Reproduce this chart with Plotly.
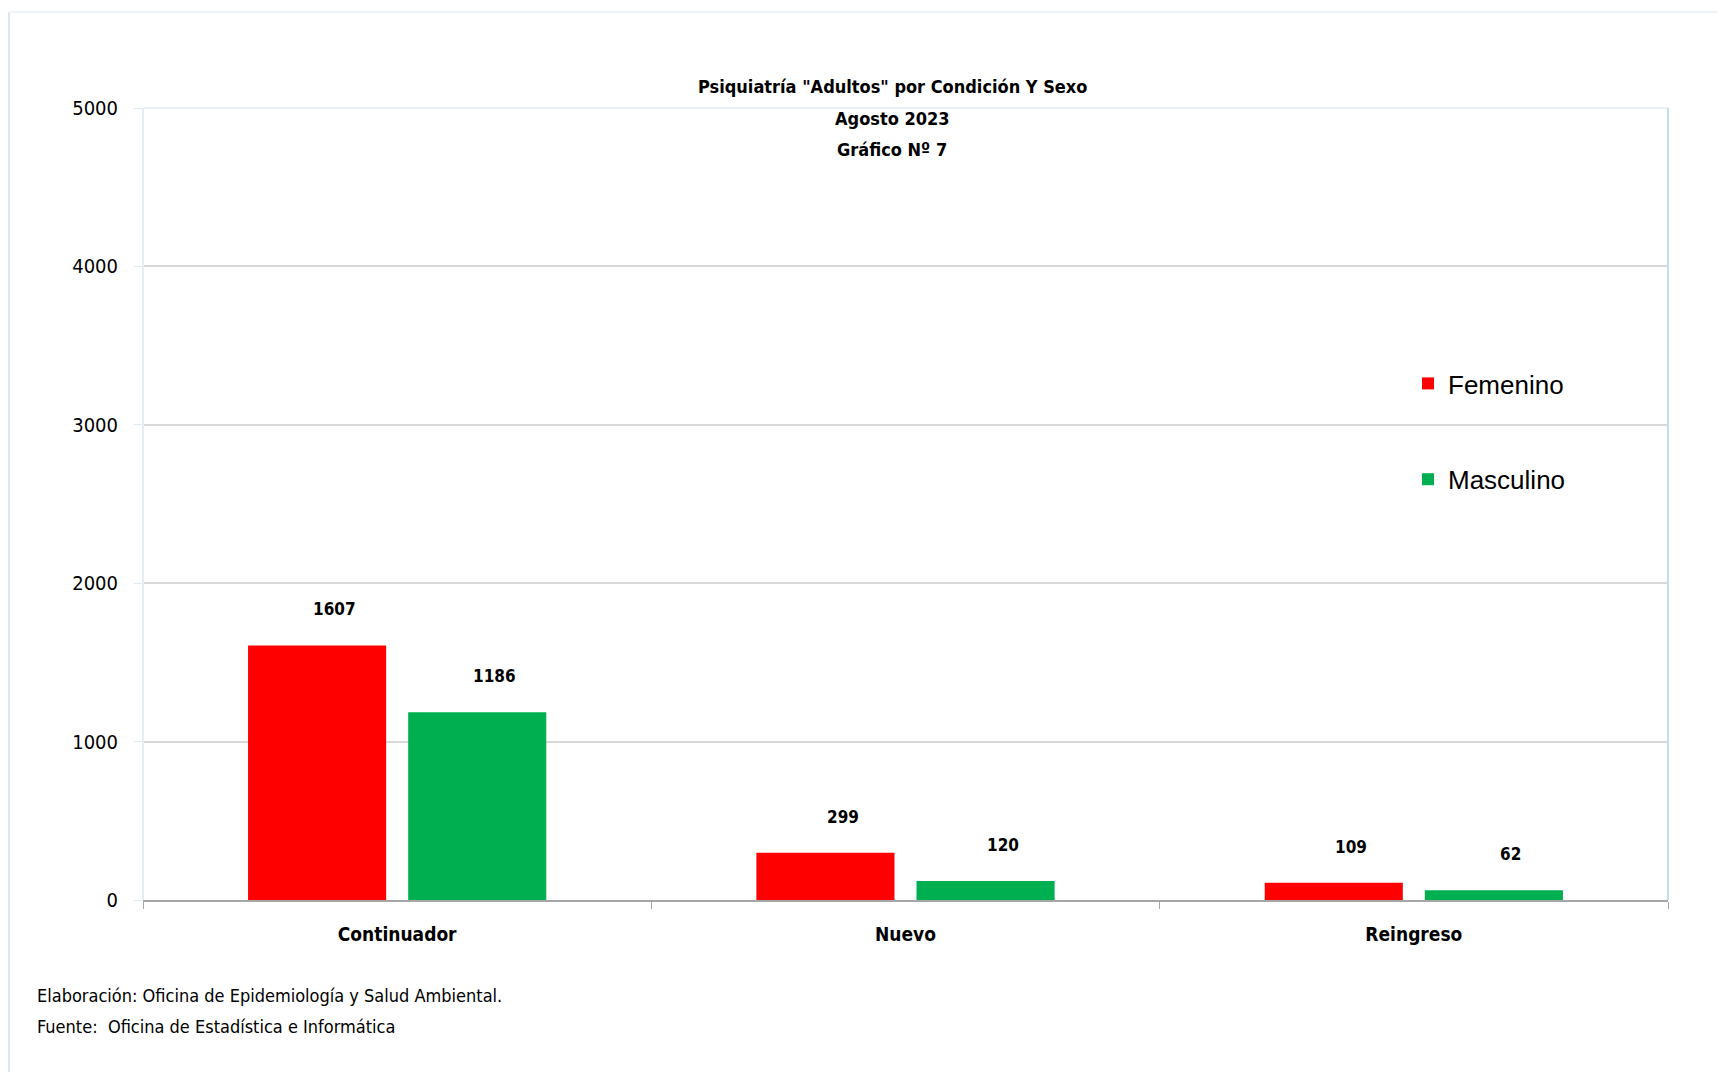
import plotly.graph_objects as go

categories = ["Continuador", "Nuevo", "Reingreso"]
femenino = [1607, 299, 109]
masculino = [1186, 120, 62]
series_names = ["Femenino", "Masculino"]
colors = ["#FF0000", "#00B050"]
title_lines = ['Psiquiatría "Adultos" por Condición Y Sexo', "Agosto 2023", "Gráfico Nº 7"]
footer_lines = ["Elaboración: Oficina de Epidemiología y Salud Ambiental.",
                "Fuente:  Oficina de Estadística e Informática"]
y_ticks = [0, 1000, 2000, 3000, 4000, 5000]

# page body has an 8px margin; work in reference coordinates and shift
OFF = 8
W, H = 1726 - OFF, 1072 - OFF
L, R, T, B = 143 - OFF, 58, 108 - OFF, 172
PW, PH = W - L - R, H - T - B


def px(xr):  # reference x -> paper x
    return (xr - OFF - L) / PW


def py(yr):  # reference y -> paper y
    return (H - B - (yr - OFF)) / PH


NARROW = "DejaVu Sans Condensed, Liberation Sans Narrow, sans-serif"

fig = go.Figure()
for name, vals, col in zip(series_names, [femenino, masculino], colors):
    fig.add_trace(go.Bar(x=categories, y=vals, name=name, marker_color=col,
                         marker_line_width=0, legendgroup=name))

# data labels
for i, vals in enumerate([femenino, masculino]):
    for c, v in zip(categories, vals):
        fig.add_annotation(x=c, y=v, text=f"<b>{v}</b>", showarrow=False,
                           xshift=(-1 if i == 0 else 1) * 80 + 17, yshift=36,
                           font=dict(family=NARROW, size=17, color="#000000"))

# title lines
for txt, yy in zip(title_lines, [86, 118, 150]):
    fig.add_annotation(xref="paper", yref="paper", x=px(892), y=py(yy),
                       text=f"<b>{txt}</b>", showarrow=False, xanchor="center", yanchor="middle",
                       font=dict(family=NARROW, size=18, color="#000000"))

# footer
for txt, yy in zip(footer_lines, [995, 1026]):
    fig.add_annotation(xref="paper", yref="paper", x=px(35), y=py(yy),
                       text=txt, showarrow=False, xanchor="left", yanchor="middle",
                       font=dict(family=NARROW, size=18, color="#000000"))

# outer frame and plot-area frame
fig.add_shape(type="line", xref="paper", yref="paper", x0=px(9), x1=px(9),
              y0=py(12), y1=py(1080), line=dict(color="#dbe7f3", width=2))
fig.add_shape(type="line", xref="paper", yref="paper", x0=px(9), x1=px(1740),
              y0=py(12), y1=py(12), line=dict(color="#f0f5fb", width=2))
fig.add_shape(type="line", xref="paper", yref="paper", x0=0, x1=1, y0=1, y1=1,
              line=dict(color="#e8f0f9", width=2))
fig.add_shape(type="line", xref="paper", yref="paper", x0=0, x1=0, y0=0, y1=1,
              line=dict(color="#e4edf7", width=2))
fig.add_shape(type="line", xref="paper", yref="paper", x0=1, x1=1, y0=0, y1=1,
              line=dict(color="#c5dbf0", width=2))

fig.update_layout(
    width=W, height=H,
    margin=dict(l=L, r=R, t=T, b=B, autoexpand=False),
    paper_bgcolor="#ffffff", plot_bgcolor="#ffffff",
    barmode="group", bargap=0.37, bargroupgap=0.1375,
    showlegend=True,
    legend=dict(x=px(1408), y=py(360), xanchor="left", yanchor="top",
                font=dict(family="Liberation Sans, Arial, sans-serif", size=26, color="#000000"),
                bgcolor="rgba(0,0,0,0)", tracegroupgap=59, traceorder="grouped",
                itemwidth=30),
    xaxis=dict(showgrid=False, showline=True, linecolor="#a6a6a6", linewidth=1.5,
               ticks="outside", tickson="boundaries", ticklen=7, tickcolor="#a6a6a6",
               tickfont=dict(family=NARROW, size=19, color="#000000"),
               tickprefix="<b>", ticksuffix="</b>", ticklabelstandoff=16),
    yaxis=dict(range=[0, 5000], tickvals=y_ticks, showgrid=True, gridcolor="#d9d9d9",
               gridwidth=1.5, zeroline=False, showline=False, ticks="outside", ticklen=8,
               tickcolor="#dde8f3", tickfont=dict(family=NARROW, size=20, color="#000000"),
               ticklabelstandoff=12),
)

fig.write_html("out.html")
